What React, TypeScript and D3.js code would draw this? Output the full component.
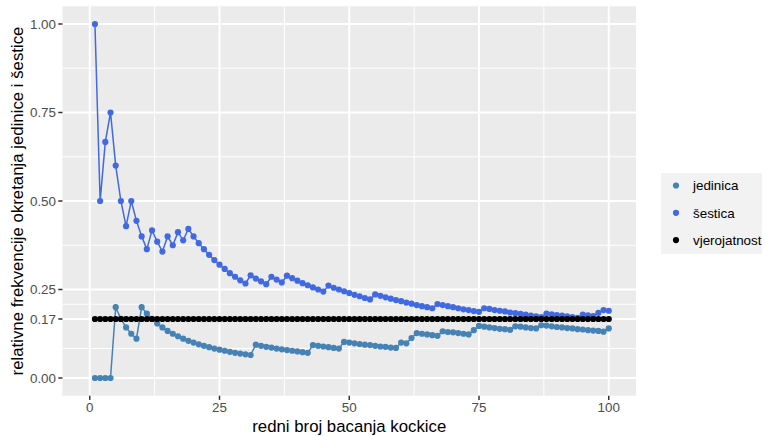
import React from 'react';
import * as d3 from 'd3';

// throw number 1..100
const throws = d3.range(1, 101);

// relative frequency of ones (jedinica)
const jedinica = [
  0, 0, 0, 0, 0.2, 0.167, 0.143, 0.125, 0.111, 0.2,
  0.182, 0.167, 0.154, 0.143, 0.133, 0.125, 0.118, 0.111, 0.105, 0.1,
  0.095, 0.091, 0.087, 0.083, 0.08, 0.077, 0.074, 0.071, 0.069, 0.067,
  0.065, 0.094, 0.091, 0.088, 0.086, 0.083, 0.081, 0.079, 0.077, 0.075,
  0.073, 0.071, 0.093, 0.091, 0.089, 0.087, 0.085, 0.083, 0.102, 0.1,
  0.098, 0.096, 0.094, 0.093, 0.091, 0.089, 0.088, 0.086, 0.085, 0.1,
  0.098, 0.113, 0.127, 0.125, 0.123, 0.121, 0.119, 0.132, 0.13, 0.129,
  0.127, 0.125, 0.123, 0.135, 0.147, 0.145, 0.143, 0.141, 0.139, 0.138,
  0.136, 0.146, 0.145, 0.143, 0.141, 0.14, 0.149, 0.148, 0.146, 0.144,
  0.143, 0.141, 0.14, 0.138, 0.137, 0.135, 0.134, 0.133, 0.131, 0.14,
];

// relative frequency of sixes (šestica)
const sestica = [
  1, 0.5, 0.667, 0.75, 0.6, 0.5, 0.429, 0.5, 0.444, 0.4,
  0.364, 0.417, 0.385, 0.357, 0.4, 0.375, 0.412, 0.389, 0.421, 0.4,
  0.381, 0.364, 0.348, 0.333, 0.32, 0.308, 0.296, 0.286, 0.276, 0.267,
  0.29, 0.281, 0.273, 0.265, 0.286, 0.278, 0.27, 0.289, 0.282, 0.275,
  0.268, 0.262, 0.256, 0.25, 0.244, 0.261, 0.255, 0.25, 0.245, 0.24,
  0.235, 0.231, 0.226, 0.222, 0.236, 0.232, 0.228, 0.224, 0.22, 0.217,
  0.213, 0.21, 0.206, 0.203, 0.2, 0.197, 0.209, 0.206, 0.203, 0.2,
  0.197, 0.194, 0.192, 0.189, 0.187, 0.197, 0.195, 0.192, 0.19, 0.188,
  0.185, 0.183, 0.181, 0.179, 0.176, 0.174, 0.172, 0.182, 0.18, 0.178,
  0.176, 0.174, 0.172, 0.17, 0.179, 0.177, 0.175, 0.184, 0.192, 0.19,
];

// theoretical probability 1/6
const vjerojatnost = throws.map(() => 1 / 6);

const xTicks = [0, 25, 50, 75, 100];
const xMinor = [12.5, 37.5, 62.5, 87.5];
const yTicks = [0, 1 / 6, 0.25, 0.5, 0.75, 1];
const yLabels = ['0.00', '0.17', '0.25', '0.50', '0.75', '1.00'];

const series = [
  { name: 'jedinica', values: jedinica, color: '#4682B4', line: true },
  { name: 'šestica', values: sestica, color: '#4169E1', line: true },
  { name: 'vjerojatnost', values: vjerojatnost, color: '#000000', line: false },
];

const FONT = '"Liberation Sans", Arial, sans-serif';

export default function App() {
  const panel = { left: 62.5, right: 636, top: 6.3, bottom: 395.7 };

  const x = d3.scaleLinear().domain([-5.25, 105.25]).range([panel.left, panel.right]);
  const y = d3.scaleLinear().domain([-0.05, 1.05]).range([panel.bottom, panel.top]);

  // minor y grid lines sit halfway between the breaks
  const yMinor = yTicks.slice(1).map((t, i) => (t + yTicks[i]) / 2);

  const line = d3.line<number>()
    .x((_, i) => x(throws[i]))
    .y(d => y(d));

  return (
    <svg width={766} height={436} style={{ position: 'absolute', left: 0, top: 0, background: '#fff' }}
      fontFamily={FONT}>
      <rect x={panel.left} y={panel.top} width={panel.right - panel.left}
        height={panel.bottom - panel.top} fill="#EBEBEB" />

      {/* grid */}
      {xMinor.map(t => (
        <line key={'xm' + t} x1={x(t)} x2={x(t)} y1={panel.top} y2={panel.bottom} stroke="#fff" strokeWidth={1} />
      ))}
      {yMinor.map(t => (
        <line key={'ym' + t} x1={panel.left} x2={panel.right} y1={y(t)} y2={y(t)} stroke="#fff" strokeWidth={1} />
      ))}
      {xTicks.map(t => (
        <line key={'xg' + t} x1={x(t)} x2={x(t)} y1={panel.top} y2={panel.bottom} stroke="#fff" strokeWidth={2} />
      ))}
      {yTicks.map(t => (
        <line key={'yg' + t} x1={panel.left} x2={panel.right} y1={y(t)} y2={y(t)} stroke="#fff" strokeWidth={2} />
      ))}

      {/* lines */}
      {series.filter(s => s.line).map(s => (
        <path key={'l' + s.name} d={line(s.values) || ''} fill="none" stroke={s.color} strokeWidth={1.5} />
      ))}
      {/* points */}
      {series.map(s => (
        <g key={'p' + s.name} fill={s.color}>
          {s.values.map((v, i) => (
            <circle key={i} cx={x(throws[i])} cy={y(v)} r={3.1} />
          ))}
        </g>
      ))}

      {/* axes */}
      {xTicks.map(t => (
        <g key={'xt' + t}>
          <line x1={x(t)} x2={x(t)} y1={panel.bottom} y2={panel.bottom + 4.2} stroke="#333" strokeWidth={1.5} />
          <text x={x(t)} y={412} textAnchor="middle" fontSize={13.4} fill="#4D4D4D">{t}</text>
        </g>
      ))}
      {yTicks.map((t, i) => (
        <g key={'yt' + t}>
          <line x1={panel.left - 4.2} x2={panel.left} y1={y(t)} y2={y(t)} stroke="#333" strokeWidth={1.5} />
          <text x={56} y={y(t) + 4.7} textAnchor="end" fontSize={13.4} fill="#4D4D4D">{yLabels[i]}</text>
        </g>
      ))}

      <text x={(panel.left + panel.right) / 2} y={432} textAnchor="middle" fontSize={16.8} fill="#000">
        redni broj bacanja kockice
      </text>
      <text transform={`translate(23,${(panel.top + panel.bottom) / 2}) rotate(-90)`} textAnchor="middle"
        fontSize={16.8} fill="#000">
        relativne frekvencije okretanja jedinice i šestice
      </text>

      {/* legend */}
      <rect x={661} y={173} width={101} height={81} fill="#F2F2F2" />
      {series.map((s, i) => (
        <g key={'lg' + s.name} transform={`translate(676,${185.5 + i * 27.3})`}>
          <circle r={3.1} fill={s.color} />
          <text x={17} y={4.7} fontSize={13.4} fill="#000">{s.name}</text>
        </g>
      ))}
    </svg>
  );
}
